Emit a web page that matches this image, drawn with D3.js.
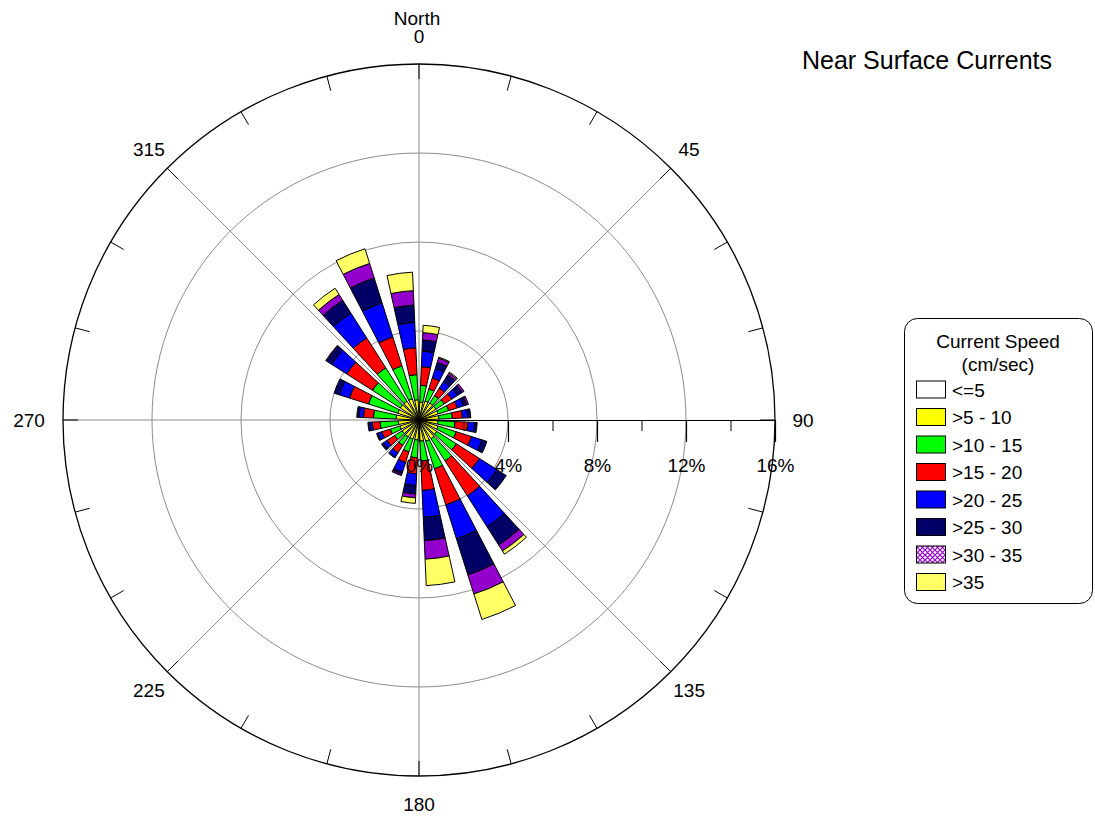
<!DOCTYPE html>
<html>
<head>
<meta charset="utf-8">
<script src="https://cdn.jsdelivr.net/npm/d3@7"></script>
<style>
  html, body { margin: 0; padding: 0; background: #fff; }
  svg { display: block; font-family: "Liberation Sans", Arial, sans-serif; }
</style>
</head>
<body>
<svg id="chart" width="1095" height="818"></svg>
<script>
// ---- data ----
const directions = [7.5, 22.5, 37.5, 52.5, 67.5, 82.5, 97.5, 112.5, 127.5, 142.5, 157.5, 172.5,
                    187.5, 202.5, 217.5, 232.5, 247.5, 262.5, 277.5, 292.5, 307.5, 322.5, 337.5, 352.5];
const speedClasses = ["<=5", ">5 - 10", ">10 - 15", ">15 - 20", ">20 - 25", ">25 - 30", ">30 - 35", ">35"];
const classColors = ["#FFFFFF", "#FFFF00", "#00FF00", "#FF0000", "#0000FF", "#000066", "#9400CC", "#FFFF66"];
// percent frequency per direction for each speed class
const speedLe5    = [0.10,0.10,0.10,0.10,0.10,0.10,0.10,0.10,0.10,0.10,0.10,0.10,0.10,0.10,0.10,0.10,0.10,0.10,0.10,0.10,0.10,0.10,0.10,0.10];
const speed5to10  = [0.70,0.79,0.80,0.80,0.80,0.80,0.75,0.80,0.85,0.90,0.90,0.85,0.80,0.80,0.80,0.80,0.80,0.83,0.93,0.90,0.90,0.90,0.90,0.81];
const speed10to15 = [0.76,0.57,0.40,0.45,0.50,0.60,0.77,0.85,1.04,1.18,1.30,0.90,0.80,0.60,0.45,0.40,0.45,0.82,1.02,1.38,1.48,1.78,1.55,1.13];
const speed15to20 = [0.84,0.52,0.40,0.40,0.40,0.45,0.58,0.72,1.23,1.86,1.70,1.32,0.72,0.50,0.40,0.40,0.40,0.35,0.45,0.89,1.37,1.59,1.36,1.21];
const speed20to25 = [0.70,0.45,0.35,0.30,0.30,0.25,0.30,0.50,0.93,1.65,1.60,1.21,0.53,0.45,0.23,0.20,0.18,0.12,0.20,0.49,0.80,1.33,1.61,1.14];
const speed25to30 = [0.50,0.29,0.35,0.25,0.15,0.13,0.12,0.23,0.50,0.97,1.70,1.05,0.38,0.10,0.04,0.10,0.07,0.08,0.10,0.24,0.27,0.68,1.17,0.78];
const speed30to35 = [0.33,0.20,0.10,0.10,0.08,0.00,0.00,0.00,0.00,0.32,0.90,0.83,0.17,0.07,0.00,0.00,0.00,0.00,0.00,0.00,0.05,0.31,0.69,0.65];
const speedGt35   = [0.33,0.04,0.05,0.00,0.00,0.00,0.00,0.00,0.00,0.17,1.20,1.19,0.25,0.00,0.00,0.00,0.00,0.00,0.00,0.00,0.00,0.33,0.69,0.83];
const radialTicks = [0, 4, 8, 12, 16];
const radialMinorTicks = [2, 6, 10, 14];
const compassLabels = [{a:0,t:"0"},{a:45,t:"45"},{a:90,t:"90"},{a:135,t:"135"},{a:180,t:"180"},{a:225,t:"225"},{a:270,t:"270"},{a:315,t:"315"}];
const titleText = "Near Surface Currents";
const legendTitle = ["Current Speed", "(cm/sec)"];

// ---- build table ----
const series = [speedLe5, speed5to10, speed10to15, speed15to20, speed20to25, speed25to30, speed30to35, speedGt35];
const table = directions.map((d, i) => {
  const row = { dir: d };
  speedClasses.forEach((k, j) => row[k] = series[j][i]);
  return row;
});
const stacked = d3.stack().keys(speedClasses)(table);

// ---- layout ----
const svg = d3.select("#chart");
const cx = 419, cy = 420, R = 356;
const r = d3.scaleLinear().domain([0, 16]).range([0, R]);
const toRad = d => d * Math.PI / 180;
const binHalf = 5; // degrees half-width of each bar

const g = svg.append("g").attr("transform", `translate(${cx},${cy})`);

// grid circles
g.selectAll("circle.grid").data([4, 8, 12]).join("circle")
  .attr("r", d => r(d)).attr("fill", "none").attr("stroke", "#8c8c8c").attr("stroke-width", 1);

// radial gray lines
[0, 45, 135, 180, 225, 270, 315].forEach(a => {
  g.append("line")
    .attr("x1", 0).attr("y1", 0)
    .attr("x2", R * Math.sin(toRad(a))).attr("y2", -R * Math.cos(toRad(a)))
    .attr("stroke", "#8c8c8c").attr("stroke-width", 1);
});

// outer circle
g.append("circle").attr("r", R).attr("fill", "none").attr("stroke", "#000").attr("stroke-width", 1.3);

// outer ticks every 15 degrees (inward)
d3.range(0, 360, 15).forEach(a => {
  const s = Math.sin(toRad(a)), c = Math.cos(toRad(a));
  g.append("line")
    .attr("x1", (R - 15) * s).attr("y1", -(R - 15) * c)
    .attr("x2", R * s).attr("y2", -R * c)
    .attr("stroke", "#000").attr("stroke-width", 1);
});

// bars
const arc = d3.arc();
const layers = g.selectAll("g.layer").data(stacked).join("g")
  .attr("class", "layer")
  .attr("fill", (d, i) => classColors[i]);
layers.selectAll("path").data(d => d.filter(p => p[1] - p[0] > 0.001)).join("path")
  .attr("d", p => arc({
    innerRadius: r(p[0]), outerRadius: r(p[1]),
    startAngle: toRad(p.data.dir - binHalf), endAngle: toRad(p.data.dir + binHalf)
  }))
  .attr("stroke", "#000").attr("stroke-width", 1).attr("stroke-linejoin", "miter");

// radial axis along 90 degrees
const axisG = g.append("g");
axisG.call(d3.axisBottom(r).tickValues(radialMinorTicks).tickSize(11).tickSizeOuter(0).tickFormat(""))
  .call(s => s.selectAll("line").attr("stroke", "#000"))
  .call(s => s.select(".domain").attr("stroke", "#000").attr("stroke-width", 1.2));
const axisG2 = g.append("g");
axisG2.call(d3.axisBottom(r).tickValues(radialTicks).tickSize(22).tickSizeOuter(0).tickPadding(17).tickFormat(d => d + "%"))
  .call(s => s.select(".domain").remove())
  .call(s => s.selectAll("line").attr("stroke", "#000").attr("stroke-width", 1.2))
  .call(s => s.selectAll("text").attr("font-size", 19).attr("fill", "#000")
        .attr("font-family", "'Liberation Sans', Arial, sans-serif"));

// compass labels
compassLabels.forEach(l => {
  const s = Math.sin(toRad(l.a)), c = Math.cos(toRad(l.a));
  const diag = (l.a % 90) !== 0;
  let rr = diag ? 382 : 384;
  if (l.a === 270) rr = 390;
  g.append("text")
    .attr("x", rr * s).attr("y", -rr * c)
    .attr("text-anchor", "middle").attr("dominant-baseline", "central")
    .attr("font-size", 19).text(l.t);
});
g.append("text").attr("x", -2).attr("y", -402).attr("text-anchor", "middle")
  .attr("dominant-baseline", "central").attr("font-size", 19).text("North");

// title
svg.append("text").attr("x", 927).attr("y", 60).attr("text-anchor", "middle")
  .attr("dominant-baseline", "central").attr("font-size", 25).text(titleText);

// legend
const defs = svg.append("defs");
const pat = defs.append("pattern").attr("id", "hatch").attr("patternUnits", "userSpaceOnUse")
  .attr("width", 5).attr("height", 5);
pat.append("rect").attr("width", 5).attr("height", 5).attr("fill", "#fff");
pat.append("path").attr("d", "M0,0 L5,5 M5,0 L0,5").attr("stroke", "#9400CC").attr("stroke-width", 1.2);

const lg = svg.append("g");
lg.append("rect").attr("x", 904.5).attr("y", 318.5).attr("width", 188).attr("height", 285)
  .attr("rx", 13).attr("ry", 13).attr("fill", "#fff").attr("stroke", "#000").attr("stroke-width", 1);
legendTitle.forEach((t, i) => {
  lg.append("text").attr("x", 998).attr("y", 341 + i * 23).attr("text-anchor", "middle")
    .attr("dominant-baseline", "central").attr("font-size", 19).text(t);
});
speedClasses.forEach((k, i) => {
  const y = 381 + i * 27.5;
  lg.append("rect").attr("x", 916.5).attr("y", y).attr("width", 29).attr("height", 17)
    .attr("fill", i === 6 ? "url(#hatch)" : classColors[i]).attr("stroke", "#000").attr("stroke-width", 1);
  lg.append("text").attr("x", 952).attr("y", y + 9).attr("dominant-baseline", "central")
    .attr("font-size", 19).text(k);
});
</script>
</body>
</html>
